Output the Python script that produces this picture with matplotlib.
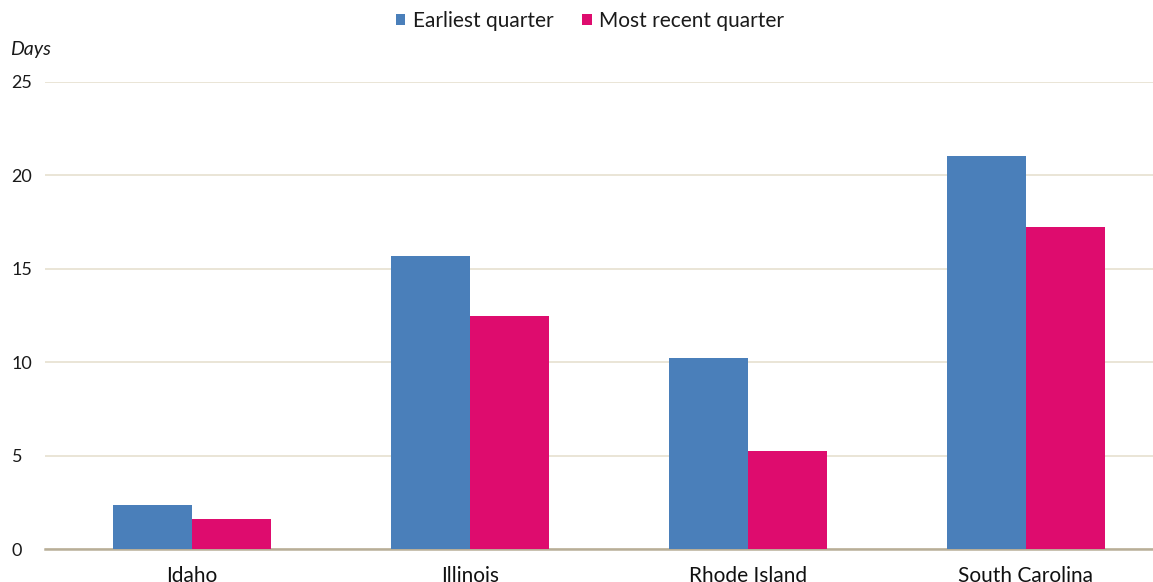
import matplotlib
matplotlib.use("Agg")
import matplotlib.pyplot as plt
import numpy as np

categories = ["Idaho", "Illinois", "Rhode Island", "South Carolina"]
earliest = [2.35, 15.7, 10.2, 21.05]
recent = [1.6, 12.5, 5.25, 17.25]
yticks = [0, 5, 10, 15, 20, 25]

plt.rcParams['font.family'] = ['Lato', 'DejaVu Sans']

W, H = 1153, 582
fig = plt.figure(figsize=(W/100, H/100), dpi=100)
ax = fig.add_axes([45/W, 33/H, (1153-45)/W, (549-82)/H])

blue = "#4A7FBA"
pink = "#DE0C6E"
x = np.arange(len(categories))
bw = 0.285
ax.bar(x - bw/2, earliest, bw, color=blue, label="Earliest quarter", zorder=3)
ax.bar(x + bw/2, recent, bw, color=pink, label="Most recent quarter", zorder=3)

ax.set_xlim(-0.529, 3.457)
ax.set_ylim(0, 25)
ax.set_yticks(yticks)
ax.set_yticklabels([str(v) for v in yticks], fontsize=13, color="#1a1a1a")
ax.set_xticks(x)
ax.set_xticklabels(categories, fontsize=15, color="#111111")
ax.tick_params(axis='both', length=0)
ax.tick_params(axis='x', pad=12)
for lbl in ax.get_yticklabels():
    lbl.set_horizontalalignment('left')
ax.yaxis.set_tick_params(pad=24)
for s in ['top', 'right', 'left']:
    ax.spines[s].set_visible(False)
ax.spines['bottom'].set_color("#B8AE98")
ax.spines['bottom'].set_linewidth(1.8)
ax.grid(axis='y', color="#E6E0D0", linewidth=1.2, zorder=0)
ax.set_axisbelow(True)

fig.text(10/W, 1 - 50/H, "Days", fontsize=14, style='italic', va='center', ha='left', color="#1a1a1a")

leg = fig.legend(loc='center', bbox_to_anchor=(590/W, 1 - 21/H), ncol=2, frameon=False,
                 fontsize=15, handlelength=0.45, handleheight=0.45, handletextpad=0.35,
                 columnspacing=1.4)
for t in leg.get_texts():
    t.set_color("#1a1a1a")

fig.savefig("out.png", dpi=100)
